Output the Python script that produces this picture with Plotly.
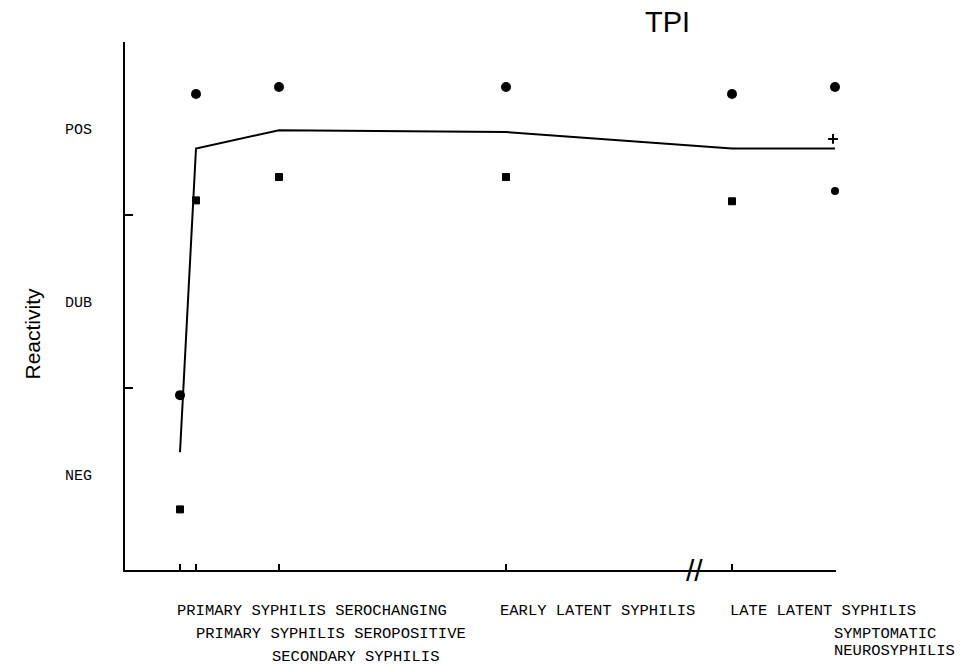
import plotly.graph_objects as go

# ---- data ----
stage_labels = [
    "PRIMARY SYPHILIS SEROCHANGING",
    "PRIMARY SYPHILIS SEROPOSITIVE",
    "SECONDARY SYPHILIS",
    "EARLY LATENT SYPHILIS",
    "LATE LATENT SYPHILIS",
    "SYMPTOMATIC<br>NEUROSYPHILIS",
]
stage_pos = [0.55, 0.71, 1.54, 3.81, 6.07, 7.10]
mean_reactivity = [1.13, 2.885, 2.99, 2.98, 2.885, 2.885]
upper_reactivity = [1.46, 3.20, 3.24, 3.24, 3.20, 3.24]
lower_reactivity = [0.80, 2.585, 2.72, 2.72, 2.58]
neuro_lower_pos = [7.10]
neuro_lower_reactivity = [2.64]
extra_pos = [7.08]
extra_reactivity = [2.94]
level_vals = [1, 2, 3]
level_text = ["NEG", "DUB", "POS"]
boundary_vals = [1.5, 2.5, 3.5]
break_pos = 5.69

# label layout: vertical centre offset below axis (px), x shift
label_yoff = [41, 64, 87, 41, 41, 64]
label_xshift = [-5, -2, -9, -8, -4, -3]

X_RANGE = [0, 7.11]
Y_RANGE = [0.45, 3.5]

mono = "Liberation Mono, Courier New, monospace"
sans = "Liberation Sans, Arial, sans-serif"

fig = go.Figure()
fig.add_trace(go.Scatter(
    x=stage_pos, y=mean_reactivity, mode="lines",
    line=dict(color="black", width=2), cliponaxis=False, showlegend=False))
fig.add_trace(go.Scatter(
    x=stage_pos, y=upper_reactivity, mode="markers",
    marker=dict(symbol="circle", size=10, color="#000000", opacity=1,
                line=dict(width=0)),
    cliponaxis=False, showlegend=False))
fig.add_trace(go.Scatter(
    x=stage_pos[:5], y=lower_reactivity, mode="markers",
    marker=dict(symbol="square", size=7, color="#000000", opacity=1,
                line=dict(color="#000000", width=1)),
    cliponaxis=False, showlegend=False))
fig.add_trace(go.Scatter(
    x=neuro_lower_pos, y=neuro_lower_reactivity, mode="markers",
    marker=dict(symbol="circle", size=8, color="#000000", opacity=1,
                line=dict(width=0)),
    cliponaxis=False, showlegend=False))
fig.add_trace(go.Scatter(
    x=extra_pos, y=extra_reactivity, mode="markers",
    marker=dict(symbol="cross-thin", size=7, color="black",
                line=dict(color="black", width=2)),
    cliponaxis=False, showlegend=False))

fig.update_layout(
    width=964, height=667,
    margin=dict(l=125, r=128, t=42, b=97),
    paper_bgcolor="white", plot_bgcolor="white",
    xaxis=dict(range=X_RANGE, showgrid=False, zeroline=False,
               showline=True, linecolor="black", linewidth=2,
               ticks="inside", ticklen=6, tickwidth=2, tickcolor="black",
               tickvals=stage_pos, showticklabels=False),
    yaxis=dict(range=Y_RANGE, showgrid=False, zeroline=False,
               showline=True, linecolor="black", linewidth=2,
               ticks="inside", ticklen=8, tickwidth=2, tickcolor="black",
               tickvals=boundary_vals, showticklabels=False),
    yaxis2=dict(range=Y_RANGE, overlaying="y", side="left", showgrid=False,
                zeroline=False, showline=False, ticks="", tickvals=level_vals,
                ticktext=level_text, ticklabelstandoff=32,
                tickfont=dict(family=mono, size=15, color="black")),
)
# invisible trace to activate yaxis2
fig.add_trace(go.Scatter(x=[None], y=[None], yaxis="y2", showlegend=False))

for lab, xp, yo, xs in zip(stage_labels, stage_pos, label_yoff, label_xshift):
    lines = lab.split("<br>")
    for i, line in enumerate(lines):
        fig.add_annotation(
            x=xp, xref="x", y=0, yref="paper", text=line, showarrow=False,
            xanchor="left", yanchor="middle", xshift=xs,
            yshift=-(yo + 17 * i), align="left",
            font=dict(family=mono, size=15.5, color="black"))

fig.add_annotation(
    x=0, xref="paper", y=0.5, yref="paper", text="Reactivity", textangle=-90,
    showarrow=False, xshift=-107, yshift=-28,
    font=dict(family=sans, size=21, color="black"))

fig.add_annotation(
    x=0.797, xref="paper", y=1, yref="paper", text="TPI", showarrow=False,
    yanchor="bottom", yshift=2, font=dict(family=sans, size=29, color="black"))

# axis break mark
fig.add_annotation(
    x=break_pos, xref="x", y=0, yref="paper",
    text="//", showarrow=False, yanchor="middle",
    font=dict(family=sans, size=30, color="black"))

fig.write_html("out.html")
